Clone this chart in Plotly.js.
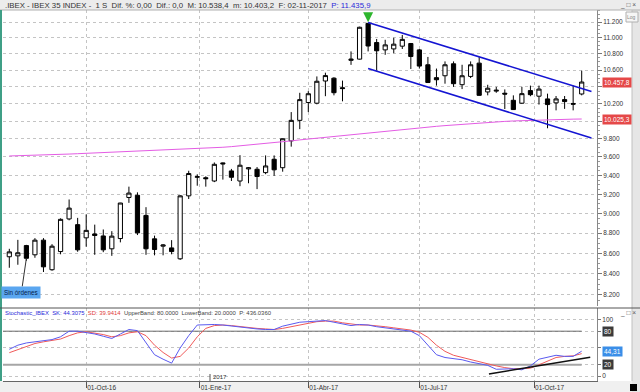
<!DOCTYPE html>
<html><head><meta charset="utf-8">
<script src="https://cdn.plot.ly/plotly-3.0.1.min.js"></script>
<style>html,body{margin:0;padding:0;background:#fff;}#chart{width:640px;height:392px;}</style>
</head><body><div id="chart"></div>
<script>
// ---- data (weekly bars, week-ending dates) ----
const weeks = ['2016-07-22','2016-07-29','2016-08-05','2016-08-12','2016-08-19','2016-08-26','2016-09-02','2016-09-09','2016-09-16','2016-09-23',
'2016-09-30','2016-10-07','2016-10-14','2016-10-21','2016-10-28','2016-11-04','2016-11-11','2016-11-18','2016-11-25','2016-12-02',
'2016-12-09','2016-12-16','2016-12-23','2016-12-30','2017-01-06','2017-01-13','2017-01-20','2017-01-27','2017-02-03','2017-02-10',
'2017-02-17','2017-02-24','2017-03-03','2017-03-10','2017-03-17','2017-03-24','2017-03-31','2017-04-07','2017-04-14','2017-04-21',
'2017-04-28','2017-05-05','2017-05-12','2017-05-19','2017-05-26','2017-06-02','2017-06-09','2017-06-16','2017-06-23','2017-06-30',
'2017-07-07','2017-07-14','2017-07-21','2017-07-28','2017-08-04','2017-08-11','2017-08-18','2017-08-25','2017-09-01','2017-09-08',
'2017-09-15','2017-09-22','2017-09-29','2017-10-06','2017-10-13','2017-10-20','2017-10-27','2017-11-03'];
const openP  = [8566,8575,8676,8585,8730,8440,8617,8944,8886,8753, 8792,8772,8644,8746,9166,9189,8980,8743,8670,8653,
 8546,9183,9380,9375,9340,9535,9448,9340,9470,9466, 9430,9575,9483,9778,10010,10216,10208,10470,10504,10390,
 10720,10735,11183,10940,10849,10861,10895,10928,10849,10666, 10510,10533,10678,10426,10525,10686,10340,10350,10325,10242,
 10208,10356,10290,10258,10212,10250,10205,10316];
const highP  = [8644,8733,8683,8750,8750,8690,8950,9145,8955,8990, 8886,8837,8820,9110,9280,9220,9065,8775,8690,8730,
 9190,9450,9412,9390,9540,9540,9470,9620,9490,9490, 9617,9617,9805,10105,10330,10350,10525,10570,10515,10475,
 10830,11140,11185,10985,10975,11000,11036,10935,10860,10762, 10620,10707,10707,10666,10707,10760,10425,10400,10370,10300,
 10400,10415,10415,10320,10292,10292,10415,10594];
const lowP   = [8459,8488,8527,8556,8418,8430,8590,8930,8615,8665, 8585,8611,8575,8708,9110,8781,8585,8580,8580,8590,
 8535,9150,9290,9280,9328,9355,9340,9285,9316,9254, 9413,9395,9440,9714,9910,10105,10195,10290,10300,10230,
 10665,10730,10830,10597,10788,10808,10860,10615,10620,10450, 10415,10438,10400,10374,10505,10295,10300,10330,10140,10130,
 10200,10290,10192,9920,10125,10142,10125,10300];
const closeP = [8614,8605,8551,8730,8468,8670,8940,9055,8634,8828, 8777,8634,8770,9108,9212,8803,8644,8637,8682,8617,
 9183,9420,9386,9365,9520,9525,9380,9510,9482,9388, 9502,9460,9802,10010,10250,10319,10467,10535,10331,10380,
 10735,11133,10897,10838,10911,10920,10980,10767,10650,10452, 10485,10666,10438,10533,10666,10300,10384,10360,10315,10134,
 10320,10308,10374,10192,10258,10227,10197,10457.8];
const movingAvg = [9611,9613,9615,9617,9620,9624,9628,9632,9636,9640, 9643,9646,9649,9652,9656,9660,9664,9668,9671,9675,
 9680,9685,9690,9695,9700,9707,9714,9722,9730,9739, 9748,9758,9768,9778,9789,9799,9809,9819,9829,9839,
 9849,9859,9869,9879,9889,9898,9907,9916,9925,9934, 9942,9950,9958,9966,9974,9980,9986,9992,9998,10003,
 10007,10011,10015,10018,10021,10023,10024,10025.3];
const stochK = [47.7,55,59,61,63,65,70,80,80,78, 75,71,67,75,83,81,60,38,30,23,
 50,72,91,91.5,92,91,89,87,85,84, 83,83,89,92,96,97,98,99,96,93,
 90,92,91,88,86,84,82,80,72,55, 38,33,31,29,25,22,19,12,13,13,
 11,18,30,34,37,35,35,44.31];
const stochD = [41.6,47,53,58,61,63,66,72,77,79, 77,74,70,72,77,79,72,55,42,32,
 35,50,70,85,90,91,90,88,86,85, 84,83,85,88,92,95,97,98,98,95,
 93,91,91,90,88,86,84,82,78,69, 55,44,37,33,29,26,22,18,15,13,
 13,14,20,27,33,35,36,39.94];
// hand-drawn trend lines (dates, values)
const chanUpX = ['2017-05-12','2017-11-11'], chanUpY = [11194,10345];
const chanLoX = ['2017-05-12','2017-11-11'], chanLoY = [10621,9810];
const suppX = ['2017-08-19','2017-11-10'], suppY = [3.6,33.4];
const upperBand = 80, lowerBand = 20;
// ticks (labels hidden where the value boxes cover them)
const priceTicks = [8200,8400,8600,8800,9000,9200,9400,9600,9800,10000,10200,10400,10600,10800,11000,11200];
const priceTickText = ['8.200','8.400','8.600','8.800','9.000','9.200','9.400','9.600','9.800','','10.200','','10.600','10.800','11.000','11.200'];
const monthTicks = ['2016-09-23','2016-12-25','2017-03-24','2017-06-23','2017-09-25'];
const monthLabels = ['01-Oct-16','01-Ene-17','01-Abr-17','01-Jul-17','01-Oct-17'];
const stochTicks = [0,20,50,80,100];
const stochTickText = ['0','','','','100'];

// ---- layout helpers (pixel -> paper) ----
const PL=3, PR=597, PT=10, PB=381;
const px = v => (v-PL)/(PR-PL);
const py = v => (PB-v)/(PB-PT);
const FONT = 'Liberation Sans, Arial, sans-serif';
const xRange = ['2016-07-16 20:00','2017-11-15 13:00'];
const last = weeks.length-1;

const minorTicks = [];
for (let v=8150; v<=11350; v+=50) if (v%200!==0) minorTicks.push(v);

const traces = [
 {type:'candlestick', x:weeks, open:openP, high:highP, low:lowP, close:closeP, xaxis:'x', yaxis:'y',
  increasing:{line:{color:'#000',width:1}, fillcolor:'#ffffff'},
  decreasing:{line:{color:'#000',width:1}, fillcolor:'#000000'}, whiskerwidth:0, hoverinfo:'skip'},
 {type:'scatter', mode:'lines', x:weeks, y:movingAvg, line:{color:'#e45ce4',width:1}, xaxis:'x', yaxis:'y'},
 {type:'scatter', mode:'lines', x:chanUpX, y:chanUpY, line:{color:'#1414d2',width:1.6}, xaxis:'x', yaxis:'y'},
 {type:'scatter', mode:'lines', x:chanLoX, y:chanLoY, line:{color:'#1414d2',width:1.6}, xaxis:'x', yaxis:'y'},
 {type:'scatter', mode:'lines', x:[xRange[0],weeks[last]], y:[upperBand,upperBand], line:{color:'#6a6a6a',width:1}, xaxis:'x', yaxis:'y2'},
 {type:'scatter', mode:'lines', x:[xRange[0],weeks[last]], y:[lowerBand,lowerBand], line:{color:'#a6a6a6',width:2}, xaxis:'x', yaxis:'y2'},
 {type:'scatter', mode:'lines', x:weeks, y:stochD, line:{color:'#f05a5a',width:1}, xaxis:'x', yaxis:'y2'},
 {type:'scatter', mode:'lines', x:weeks, y:stochK, line:{color:'#5a5af0',width:1}, xaxis:'x', yaxis:'y2'},
 {type:'scatter', mode:'lines', x:suppX, y:suppY, line:{color:'#111',width:1.5}, xaxis:'x', yaxis:'y2'}
];

const lab = (txt, ypos, yref, bg) => ({text:txt, xref:'paper', x:px(602), xanchor:'left', yref:yref, y:ypos, yanchor:'middle',
  showarrow:false, bgcolor:bg, font:{family:FONT,size:6.5,color:'#fff'}, borderpad:1});

const annotations = [
 {text:'.IBEX - IBEX 35 INDEX -  1 S  Dif. %: 0,00  Dif.: 0,0  M: 10.538,4  m: 10.403,2  F: 02-11-2017  <span style="color:#2a2ad8">P: 11.435,9</span>',
  xref:'paper', yref:'paper', x:px(3), y:py(5), xanchor:'left', yanchor:'middle', showarrow:false, font:{family:FONT,size:7.8,color:'#333'}},
 {text:'_ □ ×', xref:'paper', yref:'paper', x:px(638), y:py(5), xanchor:'right', yanchor:'middle', showarrow:false, font:{family:FONT,size:6.5,color:'#555'}},
 {text:'<span style="color:#2a2ad8">Stochastic_IBEX  SK: 44.3075</span>  <span style="color:#e03a3a">SD: 39.9414</span>  UpperBand: 80.0000  LowerBand: 20.0000  P: 436.0360',
  xref:'paper', yref:'paper', x:px(3), y:py(313), xanchor:'left', yanchor:'middle', showarrow:false, font:{family:FONT,size:5.9,color:'#444'}},
 {text:'_ □ ×', xref:'paper', yref:'paper', x:px(638), y:py(313), xanchor:'right', yanchor:'middle', showarrow:false, font:{family:FONT,size:6.5,color:'#555'}},
 lab('10.457,8', Math.log10(closeP[last]), 'y', '#e54848'),
 lab('10.025,3', Math.log10(movingAvg[last]), 'y', '#e54848'),
 lab('80', upperBand, 'y2', '#3a3a3a'),
 lab('20', lowerBand, 'y2', '#3a3a3a'),
 lab('44,31', stochK[last], 'y2', '#3a8ee8'),
 {text:'Sin órdenes', xref:'x', yref:'y', x:weeks[2], y:Math.log10(closeP[2]), ax:-5, ay:34, showarrow:true, arrowhead:0, arrowwidth:1, arrowcolor:'#333',
  bgcolor:'#5aa6f0', font:{family:FONT,size:6.3,color:'#06224a'}, borderpad:2},
 {text:'', xref:'x', yref:'y', x:weeks[42], y:Math.log10(highP[42]), ax:0, ay:-10, showarrow:true, arrowhead:2, arrowsize:1, arrowwidth:2, arrowcolor:'#2db52d', standoff:1},
 {text:'2017', xref:'paper', yref:'paper', x:px(211), y:py(377), xanchor:'left', yanchor:'middle', showarrow:false, font:{family:FONT,size:6,color:'#333'}},
 {text:'Log', xref:'paper', yref:'paper', x:px(632), y:py(17), xanchor:'center', yanchor:'middle', showarrow:false, font:{family:FONT,size:5,color:'#888'}}
];

const shapes = [
 {type:'rect', xref:'paper', yref:'paper', x0:px(0), x1:px(640), y0:py(0), y1:py(10), fillcolor:'#ececec', line:{width:0}, layer:'below'},
 {type:'line', xref:'paper', yref:'paper', x0:px(0), x1:px(640), y0:py(10), y1:py(10), line:{color:'#b0b0b0',width:1}},
 {type:'rect', xref:'paper', yref:'paper', x0:px(0), x1:px(640), y0:py(381), y1:py(392), fillcolor:'#f0f0f0', line:{width:0}, layer:'below'},
 {type:'rect', xref:'paper', yref:'paper', x0:px(632), x1:px(640), y0:py(10), y1:py(392), fillcolor:'#e6e6e6', line:{width:0}, layer:'below'},
 {type:'line', xref:'paper', yref:'paper', x0:px(632), x1:px(632), y0:py(10), y1:py(381), line:{color:'#c0c0c0',width:1}},
 {type:'rect', xref:'paper', yref:'paper', x0:px(0), x1:px(2), y0:py(10), y1:py(381), fillcolor:'#3f9f86', line:{width:0}},
 {type:'line', xref:'paper', yref:'paper', x0:px(0), x1:px(640), y0:py(308), y1:py(308), line:{color:'#555',width:1}},
 {type:'rect', xref:'paper', yref:'paper', x0:px(626), x1:px(638), y0:py(12), y1:py(22), fillcolor:'#f6f6f6', line:{color:'#b0b0b0',width:1}},
 {type:'line', xref:'paper', yref:'paper', x0:px(210), x1:px(210), y0:py(374), y1:py(381), line:{color:'#555',width:1}},
 {type:'rect', xref:'paper', yref:'paper', x0:px(630), x1:px(637), y0:py(384), y1:py(391), fillcolor:'#000', line:{width:0}}
];

const layout = {
 width:640, height:392, margin:{l:PL, r:640-PR, t:PT, b:392-PB}, showlegend:false,
 paper_bgcolor:'#ffffff', plot_bgcolor:'#ffffff', separators:',.',
 font:{family:FONT, size:6.5, color:'#333'},
 xaxis:{type:'date', range:xRange, anchor:'y2', tickmode:'array', tickvals:monthTicks, ticktext:monthLabels,
   ticks:'outside', ticklen:6, tickcolor:'#555', ticklabelposition:'outside right', tickfont:{family:FONT,size:6.5,color:'#333'},
   showgrid:true, gridcolor:'#c4c4c4', griddash:'dot', gridwidth:1, showline:true, linecolor:'#666', zeroline:false,
   rangeslider:{visible:false}, fixedrange:true},
 yaxis:{domain:[py(306),1], type:'log', range:[3.90835,4.05517], side:'right', tickmode:'array', tickvals:priceTicks, ticktext:priceTickText,
   ticks:'outside', ticklen:4, tickcolor:'#777', tickfont:{family:FONT,size:6.5,color:'#333'},
   showgrid:true, gridcolor:'#c4c4c4', griddash:'dot', gridwidth:1, showline:true, linecolor:'#888', zeroline:false,
   minor:{tickmode:'array', tickvals:minorTicks, ticks:'outside', ticklen:2, tickcolor:'#999', showgrid:false}, fixedrange:true},
 yaxis2:{domain:[0,py(308)], range:[-8.93,121.4], side:'right', tickmode:'array', tickvals:stochTicks, ticktext:stochTickText,
   ticks:'outside', ticklen:3, tickcolor:'#777', tickfont:{family:FONT,size:6.5,color:'#333'},
   showgrid:true, gridcolor:'#c4c4c4', griddash:'dot', showline:true, linecolor:'#888', zeroline:false, fixedrange:true},
 annotations:annotations, shapes:shapes
};

Plotly.newPlot('chart', traces, layout, {staticPlot:true, displayModeBar:false});
</script></body></html>
